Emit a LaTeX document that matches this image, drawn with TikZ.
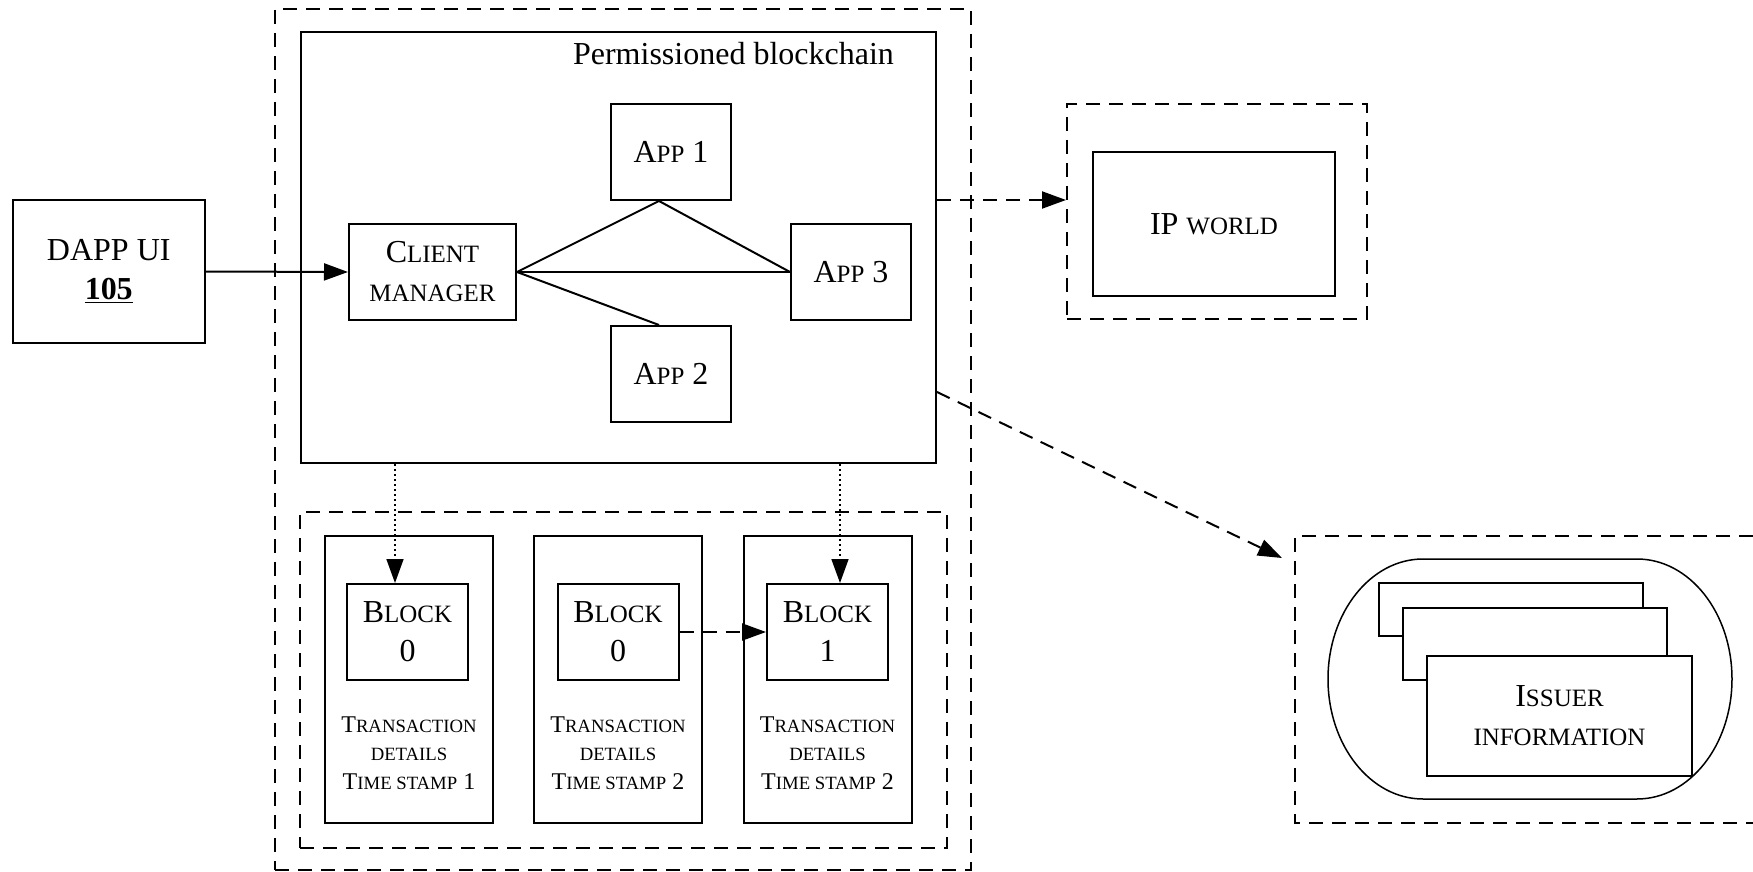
\documentclass[tikz,border=0pt]{standalone}
\usepackage{fontspec}
\setmainfont{Liberation Serif}
\usetikzlibrary{arrows.meta,calc}
\makeatletter
\newcommand\fakesc[1]{{\edef\fsctmp{\the\dimexpr 0.78\dimexpr\f@size pt\relax\relax}\edef\fscbs{\f@baselineskip}\fontsize{\fsctmp}{\fscbs}\selectfont #1}}
\makeatother
\tikzset{
  box/.style={draw, line width=1pt, align=center, inner sep=0pt, fill=white, font=\fontsize{16}{19.5}\selectfont},
  dbox/.style={draw, line width=1pt, dash pattern=on 7pt off 4.5pt},
  arr/.style={-{Triangle[length=12pt,width=8.5pt]}, line width=1pt},
  dline/.style={dash pattern=on 7pt off 4.5pt},
  dotline/.style={line width=0.8pt, dash pattern=on 1pt off 1.5pt},
  coltext/.style={align=center, inner sep=0pt, font=\fontsize{12}{14.25}\selectfont},
  plain/.style={line width=1pt},
}
\begin{document}
\begin{tikzpicture}[x=0.5pt,y=-0.5pt]
\useasboundingbox (0,0) rectangle (1753,872);
% containers
\node[dbox, minimum width=348pt, minimum height=430.5pt] (outer) at (623,439.5) {};
\node[box, minimum width=317.5pt, minimum height=215.5pt] (perm) at (618.5,247.5) {};
\node[anchor=base, inner sep=0pt, font=\fontsize{16}{19.5}\selectfont] (ptitle) at (733.5,65) {Permissioned blockchain};
% DAPP UI
\node[box, minimum width=96.25pt, minimum height=71.5pt] (dapp) at (108.75,271.5) {\raisebox{-2pt}{DAPP UI}\\\raisebox{-2pt}{\underline{\textbf{105}}}};
% client and apps
\node[box, minimum width=83.5pt, minimum height=48pt] (client) at (432.5,272) {C\fakesc{LIENT}\\\fakesc{MANAGER}};
\node[box, minimum width=60pt, minimum height=48pt] (app1) at (671,152) {A\fakesc{PP} 1};
\node[box, minimum width=60pt, minimum height=48pt] (app3) at (851,272) {A\fakesc{PP} 3};
\node[box, minimum width=60pt, minimum height=48pt] (app2) at (671,374) {A\fakesc{PP} 2};
\coordinate (a1b) at ($(app1.south)+(-12,0)$);
\coordinate (a2t) at ($(app2.north)+(-12,0)$);
\draw[plain] (client.east) -- (a1b) -- (app3.west);
\draw[plain] (client.east) -- (app3.west);
\draw[plain] (client.east) -- (a2t);
\draw[arr] (dapp.east) -- (client.west);
% chain of blocks
\node[dbox, minimum width=323.5pt, minimum height=168pt] (chain) at (623.5,680) {};
\node[box, minimum width=84pt, minimum height=143.5pt] (col1) at (409,679.5) {};
\node[box, minimum width=84pt, minimum height=143.5pt] (col2) at (618,679.5) {};
\node[box, minimum width=84pt, minimum height=143.5pt] (col3) at (827.5,679.5) {};
\node[box, minimum width=60.5pt, minimum height=48pt] (blk1) at (407.5,632) {B\fakesc{LOCK}\\0};
\node[box, minimum width=60.5pt, minimum height=48pt] (blk2) at (618,632) {B\fakesc{LOCK}\\0};
\node[box, minimum width=60.5pt, minimum height=48pt] (blk3) at (827.5,632) {B\fakesc{LOCK}\\1};
\node[coltext] (tx1) at (409,753) {T\fakesc{RANSACTION}\\\fakesc{DETAILS}\\T\fakesc{IME STAMP} 1};
\node[coltext] (tx2) at (618,753) {T\fakesc{RANSACTION}\\\fakesc{DETAILS}\\T\fakesc{IME STAMP} 2};
\node[coltext] (tx3) at (827.5,753) {T\fakesc{RANSACTION}\\\fakesc{DETAILS}\\T\fakesc{IME STAMP} 2};
\coordinate (x1) at (395,0);
\coordinate (x3) at (840,0);
\draw[arr, dotline] (perm.south -| x1) -- (blk1.north -| x1);
\draw[arr, dotline] (perm.south -| x3) -- (blk3.north -| x3);
\draw[arr, dline] (blk2.east) -- (blk3.west);
% IP world
\node[dbox, minimum width=150pt, minimum height=107.5pt] (ipo) at (1217,211.5) {};
\node[box, minimum width=121pt, minimum height=72pt] (ip) at (1214,224) {IP \fakesc{WORLD}};
\coordinate (y200) at (0,200);
\draw[arr, dline] (perm.east |- y200) -- (ipo.west |- y200);
% issuer
\coordinate (isc) at (1295,536);
\coordinate (istr) at (1753,536);
\coordinate (isbl) at (1295,823);
\coordinate (isbr) at (1753,823);
\draw[line width=1pt, dline] (istr) -- (isc) -- (isbl) -- (isbr);
\coordinate (y392) at (0,392);
\coordinate (istip) at (1282,558);
\draw[arr, dline] (perm.east |- y392) -- (istip);
\draw[line width=0.75pt] (1423,559) -- (1637,559) arc[start angle=-90, end angle=90, x radius=95, y radius=120] -- (1423,799) arc[start angle=90, end angle=270, x radius=95, y radius=120] -- cycle;
\node[box, minimum width=132pt, minimum height=26.5pt] (card1) at (1511,609.5) {};
\node[box, minimum width=132pt, minimum height=36pt] (card2) at (1535,644) {};
\node[box, minimum width=132.5pt, minimum height=60pt] (card3) at (1559.5,716) {I\fakesc{SSUER}\\\fakesc{INFORMATION}};
\end{tikzpicture}
\end{document}
